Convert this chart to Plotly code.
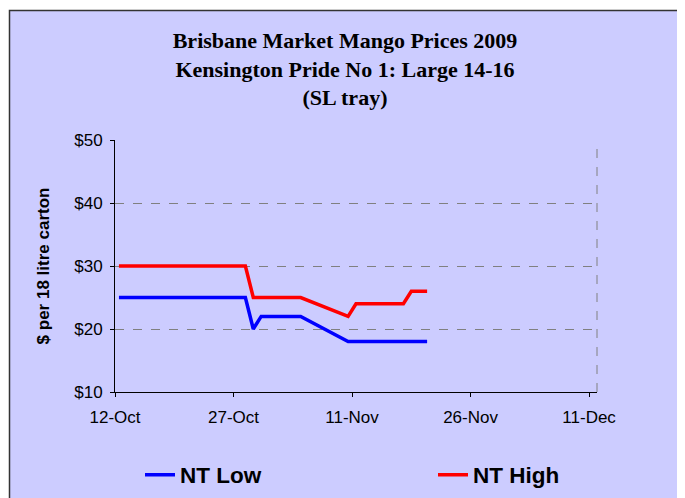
import plotly.graph_objects as go

# ---- data ----
low_dates = ["2009-10-12", "2009-10-28", "2009-10-29", "2009-10-30", "2009-11-04", "2009-11-10", "2009-11-20"]
low_values = [25, 25, 20, 22, 22, 18, 18]

high_dates = ["2009-10-12", "2009-10-28", "2009-10-29", "2009-11-04", "2009-11-10", "2009-11-11", "2009-11-17", "2009-11-18", "2009-11-20"]
high_values = [30, 30, 25, 25, 22, 24, 24, 26, 26]

tick_dates = ["2009-10-12", "2009-10-27", "2009-11-11", "2009-11-26", "2009-12-11"]
tick_labels = ["12-Oct", "27-Oct", "11-Nov", "26-Nov", "11-Dec"]

title_lines = ["Brisbane Market Mango Prices 2009", "Kensington Pride No 1: Large 14-16", "(SL tray)"]

BG = "#CCCCFF"
DAY = 86400000

fig = go.Figure()
fig.add_trace(go.Scatter(x=low_dates, y=low_values, name="NT Low", mode="lines",
                         line=dict(color="#0000FF", width=3.5),
                         xperiod=DAY, xperiodalignment="middle", legend="legend"))
fig.add_trace(go.Scatter(x=high_dates, y=high_values, name="NT High", mode="lines",
                         line=dict(color="#FF0000", width=3.5),
                         xperiod=DAY, xperiodalignment="middle", legend="legend2"))

W, H = 685, 498
OFF = 8  # page offset in the screenshot
# plot area in screenshot pixels
PX0, PX1, PY0, PY1 = 115, 597, 140, 392
pw, ph = PX1 - PX0, PY1 - PY0
L, T = PX0 - OFF, PY0 - OFF
R, B = W - (PX1 - OFF), H - (PY1 - OFF)

def px_x(p):
    return (p - PX0) / pw

def px_y(p):
    return (PY1 - p) / ph

# chart-area frame
fig.add_shape(type="rect", xref="paper", yref="paper", layer="below",
              x0=px_x(9.5), x1=px_x(680.5), y0=px_y(520), y1=px_y(10.5),
              fillcolor=BG, line=dict(color="#333333", width=1.5))
# dashed right edge of plot area
fig.add_shape(type="line", xref="x domain", yref="y domain", x0=1, x1=1, y0=0, y1=1,
              line=dict(color="#808080", width=1, dash="dash"))

leg_common = dict(orientation="h", xanchor="left", yanchor="middle",
                  bgcolor="rgba(0,0,0,0)",
                  font=dict(size=22.5, family="Liberation Sans, Arial", weight="bold", color="black"))

fig.update_layout(
    width=W, height=H,
    margin=dict(l=L, r=R, t=T, b=B, autoexpand=False),
    paper_bgcolor="white",
    plot_bgcolor=BG,
    font=dict(family="Liberation Sans, Arial, sans-serif", color="black"),
    title=dict(text="<br>".join("<b>%s</b>" % t for t in title_lines),
               font=dict(family="Liberation Serif, Times New Roman, serif", size=22, color="black"),
               x=px_x(345), xanchor="center", xref="paper",
               y=1 - 40 / H, yanchor="top"),
    showlegend=True,
    legend=dict(x=px_x(140), y=px_y(475), **leg_common),
    legend2=dict(x=px_x(433), y=px_y(475), **leg_common),
    xaxis=dict(type="date", range=["2009-10-12", "2009-12-12"],
               tickvals=tick_dates, ticktext=tick_labels,
               showgrid=False, zeroline=False,
               showline=True, linecolor="black", linewidth=1,
               ticks="outside", ticklen=4, tickcolor="black",
               ticklabelstandoff=6,
               tickfont=dict(size=17)),
    yaxis=dict(range=[10, 50], dtick=10, tick0=10, tickprefix="$",
               showgrid=True, gridcolor="#808080", griddash="dash", gridwidth=1,
               zeroline=False, showline=True, linecolor="black", linewidth=1,
               ticks="outside", ticklen=4, tickcolor="black",
               ticklabelstandoff=4,
               tickfont=dict(size=17),
               title=dict(text="<b>$ per 18 litre carton</b>", font=dict(size=17), standoff=20)),
)

fig.write_html("out.html")
